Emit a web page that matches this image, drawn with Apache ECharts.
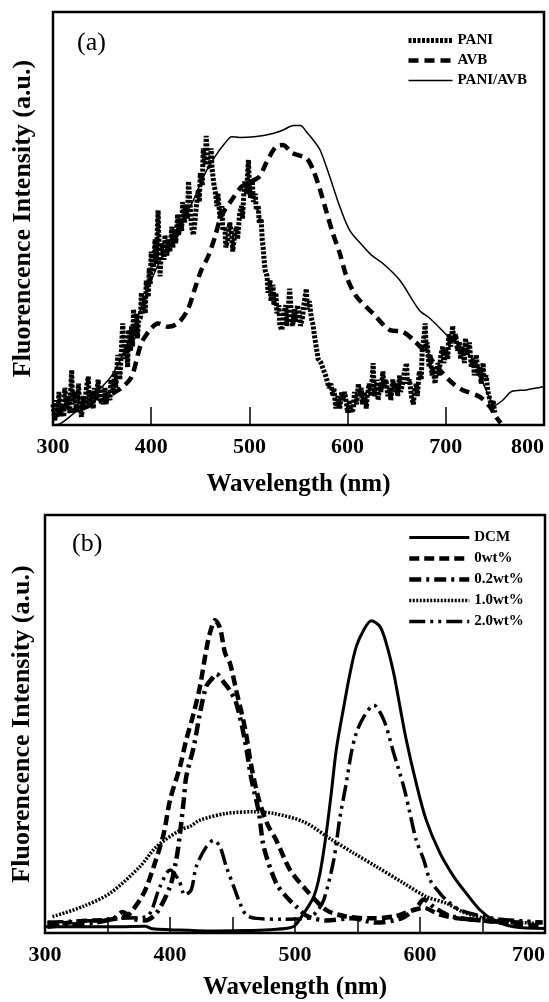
<!DOCTYPE html>
<html>
<head>
<meta charset="utf-8">
<script src="https://cdn.jsdelivr.net/npm/echarts@6/dist/echarts.min.js"></script>
<style>
  html, body { margin: 0; padding: 0; background: #fff; }
  #chart { width: 549px; height: 1002px; }
</style>
</head>
<body>
<div id="chart"></div>
<script>
// (a) PANI / AVB  -- [wavelength nm, intensity a.u.]
const pani = [[300,5],[302,1],[303,6],[305,2],[306,8],[308,3],[309,5],[311,2],[312,9],[314,4],[315,7],[317,3],[319,13.3],[320,5],[322,8],[324,3],[326,10],[327,5],[329,2],[331,7],[332,4],[334,9],[336,11.7],[337,5],[339,8],[341,4],[342,9],[344,6],[346,11],[347,6],[349,9.3],[351,5],[353,9],[354,5],[356,8],[358,6],[359,11],[361,8],[363,13],[364,9],[366,17],[368,11],[369,15],[370,20],[371,24.6],[373,16],[375,19],[376,14],[377,23],[379,18],[380,24],[381,19],[382,28],[384,22],[385,27],[386,21],[387,25],[389,26],[390,32],[391,27],[393,31],[394,27],[395,35],[397,31],[398,38],[399,34],[400,42],[402,37],[404,45],[405,39],[407,52],[408,44],[409,36],[410,41],[411,44],[413,40],[414,46],[416,41],[417,45],[419,42],[421,48],[422,43],[424,47],[425,44],[427,51],[428,46],[430,50],[431,47],[432,54],[434,49],[435,53],[437,50],[438,59],[440,52],[441,48],[443,46],[444,48],[446,53],[448,57],[449,54],[450,61],[452,58],[453,67],[455,63],[456,70],[458,63],[460,62],[461,67],[462,62],[464,58],[465,57],[467,53],[468,56],[470,50],[472,53],[473,47],[475,48],[476,43],[478,45],[480,49],[482,46],[483,42],[485,46],[487,48],[488,45],[490,51],[492,53],[493,50],[495,59],[497,56],[499,64.2],[500,58],[501,55],[503,59],[504,54],[506,56],[507,52],[509,53],[510,49],[512,50],[513,45],[514,43],[515,40],[516,37.5],[518,36],[519,32],[521,35],[522,30],[524,34],[525,29],[527,32],[528,27],[530,29],[531,24],[533,23],[535,27],[537,29],[538,24],[539,26],[541,33],[543,26],[544,24],[546,28],[547,25],[549,29],[551,27],[552,24],[554,26],[556,30],[558,33],[559,28],[561,30],[563,26],[565,24],[566,22],[568,19],[570,16],[573,15],[576,13],[578,11.7],[581,9],[583,10],[585,7],[586,9],[588,4],[590,7],[592,4],[594,8],[595,6],[597,8],[599,5],[600,3],[602,6],[604,3],[606,4],[607,8],[609,5],[611,10],[612,7],[614,9],[615,5],[617,8],[619,4],[620,7],[622,10],[624,7],[626,15],[627,9],[628,7],[630,11],[631,6],[633,10],[634,8],[636,13],[637,9],[639,11],[641,7],[643,9],[644,6],[646,11],[648,8],[650,10],[651,7],[653,12],[654,8],[656,10],[658,13],[660,15],[661,10],[663,11],[665,7],[667,5],[668,8],[670,10],[671,7],[673,13],[675,11],[676,18],[678,22],[679,24.6],[680,18],[681,20],[683,14],[684,17],[686,12],[687,14],[689,10],[690,12],[692,15],[693,12],[695,17],[697,19],[698,15],[700,18],[702,16],[703,22],[705,19],[707,24],[708,20],[710,22],[712,18],[714,20],[715,16],[717,19],[719,15],[720,21],[722,17],[724,20],[726,14],[728,16],[729,12],[731,17],[733,12],[735,14],[736,10],[738,15],[739,11],[741,12],[743,8],[745,8],[747,4],[748,6],[750,3]];
const avb = [[300,2],[310,3],[320,3.5],[330,4],[340,5],[350,6],[360,7.5],[370,9],[380,11.7],[390,19.8],[400,23.4],[407,24.6],[417,23.8],[427,24.6],[437,27.8],[444,32.7],[451,37.5],[458,40.8],[465,45.6],[471,50.4],[482,54.5],[492,57.7],[500,58.8],[510,60.1],[517,63.4],[527,67.4],[534,67.8],[544,65.8],[558,64.6],[565,61.7],[572,56.9],[578,52],[585,46.4],[592,41.6],[599,35.9],[609,31.1],[626,27],[643,23],[656,22.6],[667,20.6],[680,17.4],[694,13.3],[707,10.1],[717,8.5],[734,6.9],[745,4.4],[751,2],[756,0.5]];
const paniAvb = [[300,0],[308,0.4],[322,3],[340,7],[360,12],[380,22],[400,35],[420,45],[440,53],[455,61],[465,65],[475,68.2],[482,69.8],[490,69.6],[505,69.8],[524,70.6],[534,71.4],[545,72.5],[552,72.5],[558,71],[565,69],[572,66.6],[582,60],[592,52.9],[602,47.2],[616,43.2],[624,41.2],[636,39.1],[653,35.1],[673,27.8],[684,25.8],[701,21.8],[728,15.7],[741,8.5],[750,4.8],[758,6],[767,8.1],[782,8.5],[800,9.3]];

// (b) DCM doping series
const dcm = [[300,1.5],[330,1.5],[360,1.5],[380,1.6],[386,1.0],[400,0.8],[430,0.5],[460,0.6],[480,0.8],[495,1.2],[500,1.8],[507,4.7],[515,8.7],[520,14.3],[525,23.8],[529,33.4],[533,43.8],[539,54.1],[544,62.1],[549,68.5],[555,72.5],[561,74.7],[568,73.3],[573,69.3],[579,62.1],[584,54.1],[589,46.2],[597,35.8],[605,27],[616,19.1],[627,13.5],[637,9.5],[648,5.5],[659,3.1],[675,1.5],[700,1.1]];
const wt0 = [[302,2.5],[312,2.3],[330,2.9],[349,3.1],[363,3.9],[368,4.7],[379,9.5],[387,15.9],[395,23.8],[400,31.8],[408,39.8],[413,46.2],[419,52.6],[424,59],[429,67.7],[432,71.8],[436,74.8],[440,73],[444,67],[448,64.5],[453,58],[460,49],[465,40],[471,32],[478,26],[485,22.2],[496,15.1],[509,10.3],[525,5.5],[540,4],[560,3.5],[580,4],[603,6],[615,4.5],[630,3.5],[650,3],[680,2],[698,1.8]];
const wt02 = [[302,1.5],[320,2],[340,2.5],[355,3.5],[362,5],[370,3.5],[380,3],[389,4.7],[400,11.1],[405,17.5],[408,23.8],[411,31.8],[413,37.4],[419,44.6],[424,52.6],[429,59],[434,61],[437,62],[443,60],[448,58],[453,55],[460,46],[465,37],[471,29],[475,20.6],[485,11.9],[493,8.7],[501,6.3],[510,4],[525,3],[545,3.5],[565,2.5],[585,3.5],[597,6],[603,8],[612,6],[625,4],[650,3],[680,2.5],[698,2.5]];
const wt1 = [[306,3.9],[330,6.3],[352,9.5],[376,15.9],[389,20.6],[408,24.6],[416,25.5],[424,27],[445,28.6],[467,29],[483,28.6],[507,26.6],[528,22.6],[547,19.1],[565,15.9],[587,11.9],[605,8.7],[621,7.1],[637,4.7],[659,3.1],[693,2.3]];
const wt2 = [[302,2.5],[320,2.8],[340,3],[360,3.5],[381,3.9],[392,11.1],[400,15.1],[407,12.7],[412,9.1],[417,10.3],[421,15.9],[429,20.6],[435,22.2],[440,20.6],[445,15.9],[451,11.1],[456,7.1],[461,4.3],[469,3.5],[490,3.3],[510,3.5],[517,5],[523,7.9],[531,17.5],[536,27.8],[541,35.8],[545,43],[549,47.8],[555,51.7],[563,54.5],[571,51],[579,43],[587,35],[592,28.6],[597,22.2],[603,17.5],[608,12.7],[616,9.5],[621,7.9],[632,5.5],[659,3.5],[693,2.7],[698,2.6]];

const namesA = ['PANI', 'AVB', 'PANI/AVB'];
const namesB = ['DCM', '0wt%', '0.2wt%', '1.0wt%', '2.0wt%'];
const yTitle = 'Fluorencence Intensity (a.u.)';
const xTitle = 'Wavelength (nm)';

const serif = 'Liberation Serif';
const ink = '#000';

// line look per series: [width, dash]
const styleA = [[5, [3, 1.5]], [4.5, [10, 6]], [1.5, 'solid']];
const styleB = [[3, 'solid'], [4.5, [10, 5]], [4.5, [12, 5, 3, 5]], [3.5, [2, 1.5]], [3.5, [16, 5, 3, 5, 3, 5]]];

let chart = echarts.init(document.getElementById('chart'));

function xAxisOf (idx, min, max, interval, tickLen, gap, onlyHundreds) {
  return {
    gridIndex: idx,
    type: 'value',
    min: min,
    max: max,
    interval: interval,
    name: xTitle,
    nameLocation: 'middle',
    nameGap: gap,
    nameTextStyle: { fontFamily: serif, fontWeight: 'bold', fontSize: 25, color: ink },
    axisLine: { show: false },
    axisTick: { show: true, inside: true, length: tickLen, lineStyle: { color: ink, width: 1.5 } },
    splitLine: { show: false },
    axisLabel: {
      fontFamily: serif, fontWeight: 'bold', fontSize: 22, color: ink, margin: 11,
      alignMaxLabel: 'right',
      formatter: v => (onlyHundreds && v % 100 !== 0) ? '' : String(v)
    }
  }
}

function yAxisOf (idx, gap) {
  return {
    gridIndex: idx,
    type: 'value',
    min: 0,
    max: 100,
    name: yTitle,
    nameLocation: 'middle',
    nameGap: gap,
    nameTextStyle: { fontFamily: serif, fontWeight: 'bold', fontSize: 26, color: ink },
    axisLine: { show: false },
    axisTick: { show: false },
    axisLabel: { show: false },
    splitLine: { show: false }
  }
}

function lineSeries (name, data, axis, look, smooth) {
  return {
    name: name,
    type: 'line',
    xAxisIndex: axis,
    yAxisIndex: axis,
    data: data,
    symbol: 'none',
    smooth: smooth,
    lineStyle: { color: ink, width: look[0], type: look[1] },
    itemStyle: { color: ink }
  }
}

function legendItems (names, looks) {
  return names.map((n, i) => ({
    name: n,
    itemStyle: { opacity: 0 },
    lineStyle: { color: ink, width: looks[i][0], type: looks[i][1] }
  }))
}

const legendText = { fontFamily: serif, fontWeight: 'bold', fontSize: 15, color: ink };

chart.setOption({
  animation: false,
  backgroundColor: '#fff',
  grid: [
    { left: 53, top: 12, width: 491, height: 413, show: true, borderColor: ink, borderWidth: 2.5 },
    { left: 45, top: 515, width: 500, height: 418, show: true, borderColor: ink, borderWidth: 2.5 }
  ],
  xAxis: [
    xAxisOf(0, 300, 800, 100, 18, 47, false),
    xAxisOf(1, 300, 700, 50, 16, 42, true)
  ],
  yAxis: [
    yAxisOf(0, 17),
    yAxisOf(1, 10)
  ],
  legend: [
    {
      data: legendItems(namesA, styleA),
      orient: 'vertical',
      left: 401,
      top: 28,
      itemWidth: 44,
      itemHeight: 12,
      itemGap: 5,
      itemStyle: { opacity: 0 },
      textStyle: legendText
    },
    {
      data: legendItems(namesB, styleB),
      orient: 'vertical',
      left: 402,
      top: 525,
      itemWidth: 60,
      itemHeight: 12,
      itemGap: 6,
      itemStyle: { opacity: 0 },
      textStyle: legendText
    }
  ],
  graphic: [
    { type: 'text', left: 77, top: 30, style: { text: '(a)', font: '26px "Liberation Serif"', fill: ink } },
    { type: 'text', left: 72, top: 531, style: { text: '(b)', font: '26px "Liberation Serif"', fill: ink } }
  ],
  series: [
    lineSeries(namesA[0], pani, 0, styleA[0], false),
    lineSeries(namesA[1], avb, 0, styleA[1], 0.3),
    lineSeries(namesA[2], paniAvb, 0, styleA[2], 0.3),
    lineSeries(namesB[0], dcm, 1, styleB[0], 0.3),
    lineSeries(namesB[1], wt0, 1, styleB[1], 0.3),
    lineSeries(namesB[2], wt02, 1, styleB[2], 0.3),
    lineSeries(namesB[3], wt1, 1, styleB[3], 0.3),
    lineSeries(namesB[4], wt2, 1, styleB[4], 0.3)
  ]
})
</script>
</body>
</html>
